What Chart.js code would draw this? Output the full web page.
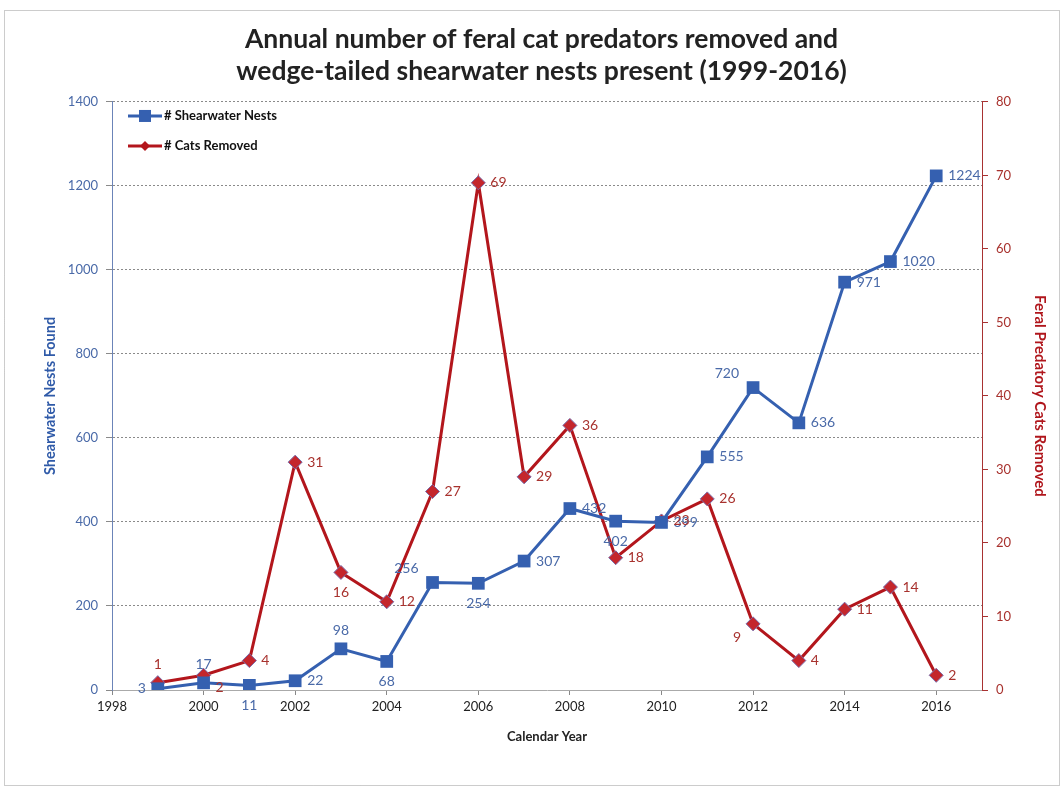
<!DOCTYPE html>
<html>
<head>
<meta charset="utf-8">
<script src="https://cdn.jsdelivr.net/npm/chart.js@4"></script>
<style>
  html, body { margin: 0; padding: 0; background: #fff; }
  #wrap { position: relative; width: 1063px; height: 787px; }
</style>
</head>
<body>
<div id="wrap"><canvas id="grafico" width="1063" height="787"></canvas></div>
<script>
// datos
const years = [1999, 2000, 2001, 2002, 2003, 2004, 2005, 2006, 2007, 2008, 2009, 2010, 2011, 2012, 2013, 2014, 2015, 2016];
const nests = [3, 17, 11, 22, 98, 68, 256, 254, 307, 432, 402, 399, 555, 720, 636, 971, 1020, 1224];
const cats  = [1, 2, 4, 31, 16, 12, 27, 69, 29, 36, 18, 23, 26, 9, 4, 11, 14, 2];
// donde va cada etiqueta respecto al punto
const nestLabelPos = ['l','a','b','r','a','b','al','b','r','r','b','r','r','al','r','r','r','r'];
const catLabelPos  = ['a','br','r','r','b','r','r','r','r','r','r','r','r','bl','r','r','r','r'];
const xTicks = [1998, 2000, 2002, 2004, 2006, 2008, 2010, 2012, 2014, 2016];
const leftTicks = [0, 200, 400, 600, 800, 1000, 1200, 1400];
const rightTicks = [0, 10, 20, 30, 40, 50, 60, 70, 80];

const BLUE = '#3560b0';
const BLUE_TXT = '#4a6aa8';
const RED = '#b3161c';
const RED_TXT = '#a8322e';
const FONT = 'Lato, "Open Sans", sans-serif';

const etiquetas = {
  id: 'etiquetas',
  afterDatasetsDraw(chart) {
    const ctx = chart.ctx;
    const conf = [
      {idx: 0, vals: nests, pos: nestLabelPos, color: BLUE_TXT},
      {idx: 1, vals: cats, pos: catLabelPos, color: RED_TXT}
    ];
    ctx.save();
    ctx.font = '14px ' + FONT;
    conf.forEach(c => {
      const meta = chart.getDatasetMeta(c.idx);
      meta.data.forEach((pt, i) => {
        const p = c.pos[i];
        let x = pt.x, y = pt.y, align = 'center';
        if (p === 'r') { x += 12; align = 'left'; }
        else if (p === 'l') { x -= 12; align = 'right'; }
        else if (p === 'a') { y -= 18; }
        else if (p === 'b') { y += 20; }
        else if (p === 'al') { x -= 14; y -= 14; align = 'right'; }
        else if (p === 'bl') { x -= 12; y += 14; align = 'right'; }
        else if (p === 'br') { x += 12; y += 12; align = 'left'; }
        ctx.fillStyle = c.color;
        ctx.textAlign = align;
        ctx.textBaseline = 'middle';
        ctx.fillText(String(c.vals[i]), x, y);
      });
    });
    ctx.restore();
  }
};

const leyenda = {
  id: 'leyenda',
  afterDraw(chart) {
    const ctx = chart.ctx;
    const a = chart.chartArea;
    const items = [
      {text: '# Shearwater Nests', color: BLUE, style: 'rect', r: 6},
      {text: '# Cats Removed', color: RED, style: 'rectRot', r: 5}
    ];
    ctx.save();
    items.forEach((it, k) => {
      const y = a.top + 14 + k * 30;
      const x0 = a.left + 16;
      ctx.strokeStyle = it.color;
      ctx.lineWidth = 3;
      ctx.beginPath();
      ctx.moveTo(x0, y);
      ctx.lineTo(x0 + 34, y);
      ctx.stroke();
      ctx.fillStyle = it.color;
      ctx.beginPath();
      if (it.style === 'rect') {
        ctx.fillRect(x0 + 17 - it.r, y - it.r, it.r * 2, it.r * 2);
      } else {
        ctx.moveTo(x0 + 17, y - it.r);
        ctx.lineTo(x0 + 17 + it.r, y);
        ctx.lineTo(x0 + 17, y + it.r);
        ctx.lineTo(x0 + 17 - it.r, y);
        ctx.closePath();
        ctx.fill();
      }
      ctx.fillStyle = '#111';
      ctx.font = 'bold 13px ' + FONT;
      ctx.textAlign = 'left';
      ctx.textBaseline = 'middle';
      ctx.fillText(it.text, x0 + 36, y);
    });
    ctx.restore();
  }
};

const marco = {
  id: 'marco',
  beforeDraw(chart) {
    const ctx = chart.ctx;
    ctx.save();
    ctx.fillStyle = '#fff';
    ctx.fillRect(0, 0, chart.width, chart.height);
    ctx.strokeStyle = '#999';
    ctx.setLineDash([1, 1]);
    ctx.lineWidth = 1;
    ctx.strokeRect(4.5, 10.5, chart.width - 8, chart.height - 12);
    ctx.restore();
  }
};

new Chart(document.getElementById('grafico').getContext('2d'), {
  type: 'line',
  data: {
    labels: years,
    datasets: [
      {
        label: '# Shearwater Nests',
        data: years.map((y, i) => ({x: y, y: nests[i]})),
        borderColor: BLUE,
        backgroundColor: BLUE,
        borderWidth: 3,
        pointStyle: 'rect',
        pointRadius: 9,
        pointBorderWidth: 0,
        yAxisID: 'y',
        tension: 0
      },
      {
        label: '# Cats Removed',
        data: years.map((y, i) => ({x: y, y: cats[i]})),
        borderColor: RED,
        backgroundColor: '#c4262c',
        borderWidth: 3,
        pointStyle: 'rectRot',
        pointRadius: 7,
        pointBorderColor: '#7a6aa8',
        pointBorderWidth: 1,
        yAxisID: 'y2',
        tension: 0
      }
    ]
  },
  options: {
    responsive: false,
    animation: false,
    layout: { padding: { left: 30, right: 10, top: 0, bottom: 30 } },
    plugins: {
      legend: { display: false },
      tooltip: { enabled: false },
      title: {
        display: true,
        text: ['Annual number of feral cat predators removed and', 'wedge-tailed shearwater nests present (1999-2016)'],
        color: '#222',
        font: { family: FONT, size: 26.5, weight: 'bold', lineHeight: 1.22 },
        padding: { top: 23, bottom: 14.3 }
      }
    },
    scales: {
      x: {
        type: 'linear',
        min: 1998,
        max: 2017,
        afterBuildTicks(s) { s.ticks = xTicks.map(v => ({value: v})); },
        ticks: { color: '#222', font: { family: FONT, size: 13 }, padding: 4, callback: v => String(v) },
        grid: { drawOnChartArea: false, tickLength: 5, color: '#888' },
        border: { color: '#aaa' },
        title: { display: true, text: 'Calendar Year', color: '#222', font: { family: FONT, size: 13, weight: 'bold' }, padding: { top: 0, bottom: 12 } },
        afterFit(s) { s.height = 67; }
      },
      y: {
        position: 'left',
        min: 0,
        max: 1400,
        afterBuildTicks(s) { s.ticks = leftTicks.map(v => ({value: v})); },
        ticks: { color: BLUE_TXT, font: { family: FONT, size: 13 }, padding: 8, callback: v => String(v) },
        grid: { color: '#8a8a8a', tickLength: 6, lineWidth: 1 },
        border: { color: '#6b84b8', dash: [2, 2] },
        title: { display: true, text: 'Shearwater Nests Found', color: '#2f5aa8', font: { family: FONT, size: 14.5, weight: 'bold' }, padding: { top: 12 } },
        afterFit(s) { s.width = 82; }
      },
      y2: {
        position: 'right',
        min: 0,
        max: 80,
        afterBuildTicks(s) { s.ticks = rightTicks.map(v => ({value: v})); },
        ticks: { color: RED_TXT, font: { family: FONT, size: 13 }, padding: 8, callback: v => String(v) },
        grid: { drawOnChartArea: false, tickLength: 6, color: '#a83232' },
        border: { color: '#a83232' },
        title: { display: true, text: 'Feral Predatory Cats Removed', color: '#b0161c', font: { family: FONT, size: 15, weight: 'bold' }, padding: { top: 4 } },
        afterFit(s) { s.width = 71; }
      }
    }
  },
  plugins: [marco, etiquetas, leyenda]
});
</script>
</body>
</html>
